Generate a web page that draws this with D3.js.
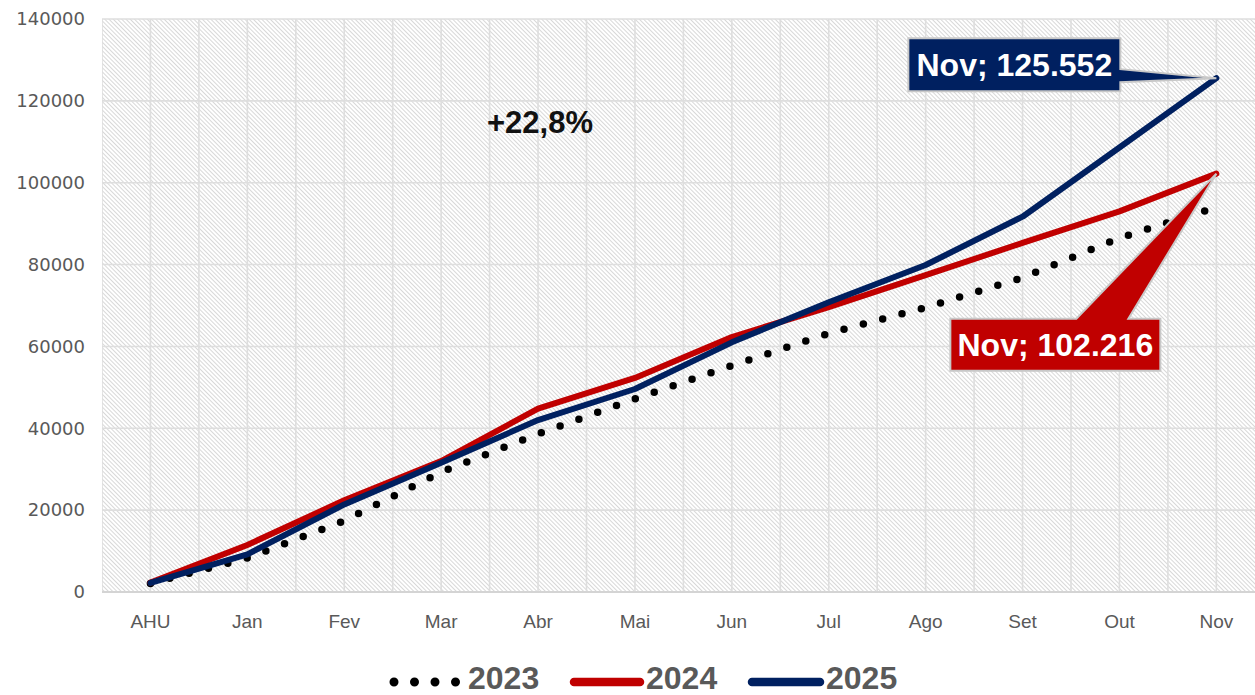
<!DOCTYPE html>
<html>
<head>
<meta charset="utf-8">
<script src="https://cdn.jsdelivr.net/npm/d3@7"></script>
<style>
  html, body { margin: 0; padding: 0; background: #ffffff; }
  svg { display: block; }
</style>
</head>
<body>
<svg id="chart" width="1255" height="695"></svg>
<script>
// ---------- DATA ----------
const categories = ["AHU", "Jan", "Fev", "Mar", "Abr", "Mai", "Jun", "Jul", "Ago", "Set", "Out", "Nov"];
const s2023 = [2100, 8300, 17400, 29300, 38600, 47200, 55300, 63200, 69500, 76800, 86500, 94000];
const s2024 = [2300, 11500, 22400, 32000, 44800, 52300, 62300, 69600, 77400, 85300, 93000, 102216];
const s2025 = [2200, 9200, 21400, 31600, 42000, 49600, 61000, 70800, 79900, 91700, 108600, 125552];
const yTicks = [0, 20000, 40000, 60000, 80000, 100000, 120000, 140000];
const seriesNames = ["2023", "2024", "2025"];
const growthLabel = "+22,8%";

// ---------- LAYOUT ----------
const W = 1255, H = 695;
const plotLeft = 102, plotTop = 19, plotBottom = 592, step = 96.9;
const colors = { "2023": "#000000", "2024": "#C00000", "2025": "#002060" };

const svg = d3.select("#chart");
const x = d3.scaleBand().domain(categories).range([plotLeft, plotLeft + step * categories.length]).padding(0);
const y = d3.scaleLinear().domain([0, 140000]).range([plotBottom, plotTop]);
const cx = c => x(c) + x.bandwidth() / 2;

// hatch pattern
const defs = svg.append("defs");
const pat = defs.append("pattern")
  .attr("id", "hatch").attr("patternUnits", "userSpaceOnUse")
  .attr("width", 3).attr("height", 3)
  .attr("patternTransform", "rotate(-45)");
pat.append("rect").attr("width", 3).attr("height", 3).attr("fill", "#ffffff");
pat.append("line").attr("x1", 0.5).attr("y1", 0).attr("x2", 0.5).attr("y2", 3)
  .attr("stroke", "#d8d8d8").attr("stroke-width", 1);

defs.append("clipPath").attr("id", "clip").append("rect")
  .attr("x", plotLeft).attr("y", plotTop - 10).attr("width", W - plotLeft).attr("height", plotBottom - plotTop + 20);

// plot background
svg.append("rect").attr("x", plotLeft).attr("y", plotTop)
  .attr("width", W - plotLeft).attr("height", plotBottom - plotTop)
  .attr("fill", "url(#hatch)");

// gridlines
const grid = svg.append("g").attr("clip-path", "url(#clip)");
grid.selectAll(".hg").data(yTicks).join("line")
  .attr("x1", plotLeft).attr("x2", W)
  .attr("y1", d => y(d)).attr("y2", d => y(d))
  .attr("stroke", "#dedede").attr("stroke-width", 1.6);
const vpos = [];
categories.forEach(c => { vpos.push(x(c)); vpos.push(cx(c)); });
vpos.push(x(categories[categories.length - 1]) + x.bandwidth());
grid.selectAll(".vg").data(vpos).join("line")
  .attr("x1", d => d).attr("x2", d => d)
  .attr("y1", plotTop).attr("y2", plotBottom)
  .attr("stroke", "#dedede").attr("stroke-width", 1.6);
// bottom axis line
svg.append("line").attr("x1", plotLeft).attr("x2", W)
  .attr("y1", plotBottom).attr("y2", plotBottom)
  .attr("stroke", "#d4d4d4").attr("stroke-width", 2);

// y axis labels
const yAxis = svg.append("g").attr("transform", `translate(${plotLeft},0)`)
  .call(d3.axisLeft(y).tickValues(yTicks).tickSize(0).tickPadding(17).tickFormat(d3.format("d")));
yAxis.select(".domain").remove();
yAxis.selectAll("text").attr("font-family", "'DejaVu Sans', sans-serif")
  .attr("font-size", 18).attr("fill", "#595959");

// x axis labels
const xAxis = svg.append("g").attr("transform", `translate(0,${plotBottom})`)
  .call(d3.axisBottom(x).tickSize(0).tickPadding(23));
xAxis.select(".domain").remove();
xAxis.selectAll("text").attr("font-family", "'Liberation Sans', Arial, sans-serif")
  .attr("font-size", 19).attr("fill", "#595959");

// lines
const line = d3.line().x((d, i) => cx(categories[i])).y(d => y(d)).curve(d3.curveLinear);
const lines = svg.append("g").attr("clip-path", "url(#clip)");
lines.append("path").datum(s2023).attr("d", line)
  .attr("fill", "none").attr("stroke", colors["2023"]).attr("stroke-width", 7.5)
  .attr("stroke-linecap", "round").attr("stroke-dasharray", "0 20");
lines.append("path").datum(s2024).attr("d", line)
  .attr("fill", "none").attr("stroke", colors["2024"]).attr("stroke-width", 6)
  .attr("stroke-linecap", "round").attr("stroke-linejoin", "round");
lines.append("path").datum(s2025).attr("d", line)
  .attr("fill", "none").attr("stroke", colors["2025"]).attr("stroke-width", 6)
  .attr("stroke-linecap", "round").attr("stroke-linejoin", "round");

// growth annotation
svg.append("text").attr("x", 540).attr("y", 133).attr("text-anchor", "middle")
  .attr("font-family", "'Liberation Sans', Arial, sans-serif").attr("font-weight", "bold")
  .attr("font-size", 31).attr("fill", "#111111").text(growthLabel);

// callouts
const fmt = v => v.toLocaleString("de-DE");
const last = categories.length - 1;
// blue callout (2025)
{
  const tx = cx(categories[last]), ty = y(s2025[last]);
  const r = tx - 96, l = r - 212, t = ty - 40, b = ty + 13;
  const p = `M${l},${t} L${r},${t} L${r},${ty - 9} L${tx},${ty} L${r},${ty + 4} L${r},${b} L${l},${b} Z`;
  svg.append("path").attr("d", p).attr("fill", colors["2025"])
    .attr("stroke", "#c8c8c8").attr("stroke-width", 2).attr("stroke-linejoin", "miter");
  svg.append("text").attr("x", (l + r) / 2).attr("y", (t + b) / 2 + 11.5).attr("text-anchor", "middle")
    .attr("font-family", "'Liberation Sans', Arial, sans-serif").attr("font-weight", "bold")
    .attr("font-size", 32).attr("fill", "#ffffff").text(`${categories[last]}; ${fmt(s2025[last])}`);
}
// red callout (2024)
{
  const tx = cx(categories[last]), ty = y(s2024[last]);
  const l = tx - 266, r = tx - 56, t = ty + 145, b = ty + 197;
  const p = `M${l},${t} L${tx - 140},${t} L${tx},${ty} L${tx - 88},${t} L${r},${t} L${r},${b} L${l},${b} Z`;
  svg.append("path").attr("d", p).attr("fill", colors["2024"])
    .attr("stroke", "#c8c8c8").attr("stroke-width", 2).attr("stroke-linejoin", "miter");
  svg.append("text").attr("x", (l + r) / 2).attr("y", (t + b) / 2 + 11.5).attr("text-anchor", "middle")
    .attr("font-family", "'Liberation Sans', Arial, sans-serif").attr("font-weight", "bold")
    .attr("font-size", 32).attr("fill", "#ffffff").text(`${categories[last]}; ${fmt(s2024[last])}`);
}

// legend
const leg = svg.append("g");
const legY = 682;
const legItems = [
  { name: seriesNames[0], x0: 394, x1: 456, tx: 468, dotted: true },
  { name: seriesNames[1], x0: 574, x1: 640, tx: 646, dotted: false },
  { name: seriesNames[2], x0: 752, x1: 820, tx: 826, dotted: false }
];
legItems.forEach(it => {
  leg.append("line").attr("x1", it.x0).attr("x2", it.x1).attr("y1", legY).attr("y2", legY)
    .attr("stroke", colors[it.name]).attr("stroke-width", it.dotted ? 9 : 8.5)
    .attr("stroke-linecap", "round")
    .attr("stroke-dasharray", it.dotted ? "0 20.5" : null);
  leg.append("text").attr("x", it.tx).attr("y", 689)
    .attr("font-family", "'Liberation Sans', Arial, sans-serif").attr("font-weight", "bold")
    .attr("font-size", 32).attr("fill", "#595959").text(it.name);
});
</script>
</body>
</html>
